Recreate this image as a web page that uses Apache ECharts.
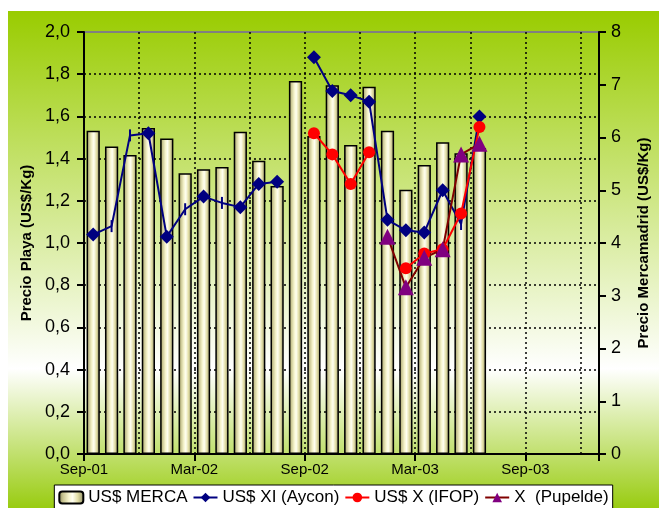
<!DOCTYPE html>
<html>
<head>
<meta charset="utf-8">
<script src="https://cdn.jsdelivr.net/npm/echarts@6/dist/echarts.min.js"></script>
<style>
  html, body { margin: 0; padding: 0; background: #fff; }
  #chart { position: absolute; left: 8px; top: 11px; width: 651px; height: 497px; }
</style>
</head>
<body>
<div id="chart"></div>
<script>
  // months, Sep-01 .. Dec-03
  const months = ['Sep-01','Oct-01','Nov-01','Dec-01','Jan-02','Feb-02','Mar-02','Apr-02','May-02','Jun-02',
    'Jul-02','Aug-02','Sep-02','Oct-02','Nov-02','Dec-02','Jan-03','Feb-03','Mar-03','Apr-03','May-03',
    'Jun-03','Jul-03','Aug-03','Sep-03','Oct-03','Nov-03','Dec-03'];
  const xTickLabels = ['Sep-01', 'Mar-02', 'Sep-02', 'Mar-03', 'Sep-03'];

  // US$/Kg Mercamadrid (right axis)
  const merca = [6.13, 5.83, 5.67, 6.18, 5.98, 5.32, 5.40, 5.44, 6.11, 5.56, 5.08,
    7.07, 6.03, 6.99, 5.86, 6.96, 6.13, 5.01, 5.48, 5.91, 5.70, 5.80];
  // US$/Kg playa (left axis)
  const aycon = [1.04, 1.08, 1.51, 1.52, 1.03, 1.16, 1.22, 1.19, 1.17, 1.28, 1.29,
    null, 1.88, 1.72, 1.70, 1.67, 1.11, 1.06, 1.05, 1.25, 1.09, 1.60];
  const ayconDashPts = [1, 2, 5, 7, 20]; // points drawn with a small dash instead of a diamond
  const ifop = [null, null, null, null, null, null, null, null, null, null, null,
    null, 1.52, 1.42, 1.28, 1.43, null, 0.88, 0.95, 0.97, 1.14, 1.55];
  const pupelde = [null, null, null, null, null, null, null, null, null, null, null,
    null, null, null, null, null, 1.03, 0.79, 0.93, 0.97, 1.42, 1.47];

  const font = 'Arial, "Liberation Sans", sans-serif';
  const dotted = { color: '#000', width: 1.5, type: [2, 3] };

  const barFill = {
    type: 'linear', x: 0, y: 0, x2: 1, y2: 0,
    colorStops: [
      { offset: 0, color: '#7f7d52' },
      { offset: 0.18, color: '#c9c591' },
      { offset: 0.4, color: '#f6f4cc' },
      { offset: 0.55, color: '#fffff2' },
      { offset: 0.75, color: '#e2dea6' },
      { offset: 1, color: '#888660' }
    ]
  };

  const chart = echarts.init(document.getElementById('chart'));
  chart.setOption({
    backgroundColor: {
      type: 'linear', x: 0, y: 0, x2: 0, y2: 1,
      colorStops: [
        { offset: 0, color: '#99cc00' },
        { offset: 0.72, color: '#ffffff' },
        { offset: 1, color: '#99cc11' }
      ]
    },
    animation: false,
    textStyle: { fontFamily: font, color: '#000' },
    grid: {
      left: 76, right: 53, top: 21, bottom: 54,
      show: true, borderColor: '#808080', borderWidth: 2, backgroundColor: 'transparent'
    },
    legend: {
      top: 474, left: 'center',
      backgroundColor: '#fff', borderColor: '#000', borderWidth: 1,
      padding: [4, 4], itemGap: 5, itemWidth: 24, itemHeight: 12,
      textStyle: { fontFamily: font, fontSize: 17, color: '#000' },
      data: ['US$ MERCA', 'US$ XI (Aycon)', 'US$ X (IFOP)', 'X  (Pupelde)']
    },
    xAxis: [{
      type: 'category',
      data: months,
      boundaryGap: true,
      axisLine: { lineStyle: { color: '#000', width: 2 } },
      axisTick: { show: false },
      axisLabel: { show: false },
      splitLine: { show: true, interval: 2, lineStyle: dotted }
    }, {
      type: 'value',
      min: 0, max: 28, interval: 6,
      position: 'bottom',
      axisLine: { show: false },
      axisTick: { show: true, inside: false, length: 7, lineStyle: { color: '#000', width: 2 } },
      splitLine: { show: false },
      axisLabel: {
        fontSize: 15, color: '#000', margin: 8,
        formatter: v => (v % 6 === 0 ? xTickLabels[v / 6] : '')
      }
    }],
    yAxis: [{
      type: 'value',
      min: 0, max: 2, interval: 0.2,
      name: 'Precio Playa (US$/Kg)',
      nameLocation: 'middle', nameGap: 46, nameRotate: 90,
      nameTextStyle: { fontSize: 15, fontWeight: 'bold', color: '#000' },
      axisLine: { show: true, lineStyle: { color: '#000', width: 2 } },
      axisTick: { show: true, length: 7, lineStyle: { color: '#000', width: 2 } },
      axisLabel: { fontSize: 18, color: '#000', margin: 14, formatter: v => v.toFixed(1).replace('.', ',') },
      splitLine: { show: true, showMaxLine: false, lineStyle: dotted }
    }, {
      type: 'value',
      min: 0, max: 8, interval: 1,
      position: 'right',
      name: 'Precio Mercamadrid (US$/Kg)',
      nameLocation: 'middle', nameGap: 37, nameRotate: 90,
      nameTextStyle: { fontSize: 15, fontWeight: 'bold', color: '#000' },
      axisLine: { show: true, lineStyle: { color: '#000', width: 2 } },
      axisTick: { show: true, length: 7, lineStyle: { color: '#000', width: 2 } },
      axisLabel: { fontSize: 18, color: '#000', margin: 12 },
      splitLine: { show: false }
    }],
    series: [{
      name: 'US$ MERCA',
      type: 'bar',
      xAxisIndex: 0, yAxisIndex: 1,
      data: merca,
      barCategoryGap: '28%',
      itemStyle: { color: barFill, borderColor: '#000', borderWidth: 1.5 }
    }, {
      name: 'US$ XI (Aycon)',
      type: 'line',
      xAxisIndex: 0, yAxisIndex: 0,
      data: aycon.map((v, i) => ayconDashPts.includes(i)
        ? { value: v, symbol: 'rect', symbolSize: [2, 12] }
        : v),
      symbol: 'diamond', symbolSize: 14, showAllSymbol: true,
      lineStyle: { color: '#000080', width: 2 },
      itemStyle: { color: '#000080' }
    }, {
      name: 'US$ X (IFOP)',
      type: 'line',
      xAxisIndex: 0, yAxisIndex: 0,
      data: ifop,
      symbol: 'circle', symbolSize: 12, showAllSymbol: true,
      lineStyle: { color: '#ff0000', width: 2 },
      itemStyle: { color: '#ff0000' }
    }, {
      name: 'X  (Pupelde)',
      type: 'line',
      xAxisIndex: 0, yAxisIndex: 0,
      data: pupelde,
      symbol: 'triangle', symbolSize: 16, showAllSymbol: true,
      lineStyle: { color: '#800000', width: 2 },
      itemStyle: { color: '#800080' }
    }]
  });
</script>
</body>
</html>
